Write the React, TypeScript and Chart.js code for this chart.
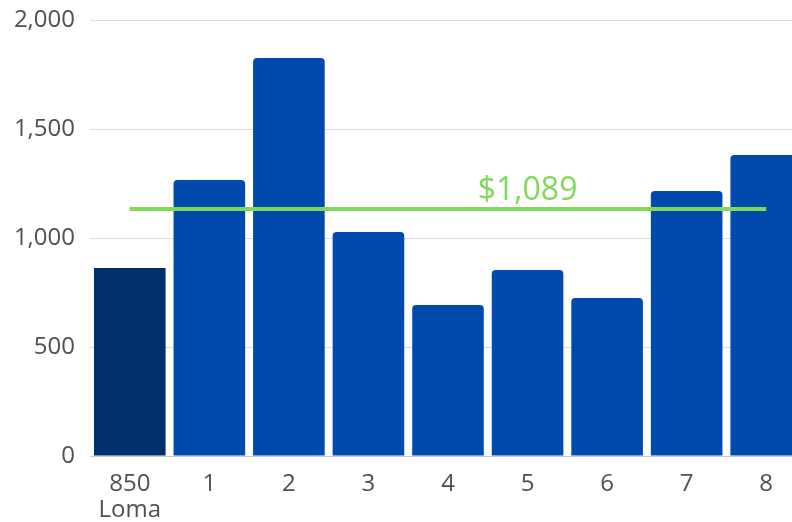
import React, { useEffect, useRef } from "react";
import { Chart, registerables } from "chart.js";

Chart.register(...registerables);

const categories: (string | string[])[] = [["850", "Loma"], "1", "2", "3", "4", "5", "6", "7", "8"];
const values = [862, 1266, 1826, 1028, 693, 853, 725, 1216, 1381];
const averageValue = 1133;
const averageLabel = "$1,089";
const labelIndex = 5;
const yTicks = [0, 500, 1000, 1500, 2000];

const FONT = "'Open Sans', 'Noto Sans', sans-serif";
const DARK = "#00306b";
const BLUE = "#004aad";
const GREEN = "#7ed957";
const TEXT = "#505050";

export default function App() {
  const ref = useRef<HTMLCanvasElement | null>(null);

  useEffect(() => {
    if (!ref.current) return;
    const labelPlugin = {
      id: "avgLabel",
      afterDatasetsDraw(chart: any) {
        const { ctx, scales } = chart;
        const x = scales.x.getPixelForValue(labelIndex);
        const y = scales.y.getPixelForValue(averageValue);
        ctx.save();
        ctx.font = `32px ${FONT}`;
        ctx.fillStyle = GREEN;
        ctx.textAlign = "center";
        ctx.textBaseline = "alphabetic";
        ctx.fillText(averageLabel, x, y - 9);
        ctx.restore();
      },
    };
    const chart = new Chart(ref.current, {
      type: "bar",
      data: {
        labels: categories,
        datasets: [
          {
            type: "line",
            data: values.map(() => averageValue),
            borderColor: GREEN,
            borderWidth: 4,
            pointRadius: 0,
            fill: false,
            order: 0,
          } as any,
          {
            type: "bar",
            data: values,
            backgroundColor: values.map((_, i) => (i === 0 ? DARK : BLUE)),
            borderRadius: values.map((_, i) => (i === 0 ? 0 : 4)) as any,
            borderSkipped: "bottom",
            barPercentage: 0.9,
            categoryPercentage: 1,
            order: 1,
          },
        ],
      },
      options: {
        animation: false,
        responsive: true,
        maintainAspectRatio: false,
        layout: { padding: { top: 20, left: 0, right: 0, bottom: 0 } },
        plugins: { legend: { display: false }, tooltip: { enabled: false } },
        scales: {
          x: {
            grid: { display: false, drawTicks: false },
            border: { display: true, color: "#cccccc", width: 1 },
            ticks: {
              color: TEXT,
              font: { family: FONT, size: 24, lineHeight: 1.08 },
              padding: 15,
              maxRotation: 0,
              autoSkip: false,
            },
            afterFit(scale: any) {
              scale.height = 66;
              scale.paddingLeft = 0;
              scale.paddingRight = 0;
            },
          },
          y: {
            min: 0,
            max: 2000,
            afterBuildTicks(scale: any) {
              scale.ticks = yTicks.map((v) => ({ value: v }));
            },
            grid: { color: "#dddddd", drawTicks: false },
            border: { display: false },
            ticks: {
              color: TEXT,
              font: { family: FONT, size: 24 },
              padding: 15,
              callback: (v: any) => Number(v).toLocaleString("en-US"),
            },
            afterFit(scale: any) {
              scale.width = 90;
              scale.paddingTop = 0;
              scale.paddingBottom = 0;
            },
          },
        },
      },
      plugins: [labelPlugin],
    });
    return () => chart.destroy();
  }, []);

  return (
    <div style={{ position: "fixed", left: 0, top: 0, width: 792, height: 522, overflow: "hidden", background: "#fff" }}>
      <div style={{ position: "relative", width: 806, height: 522 }}>
        <canvas ref={ref} />
      </div>
    </div>
  );
}
